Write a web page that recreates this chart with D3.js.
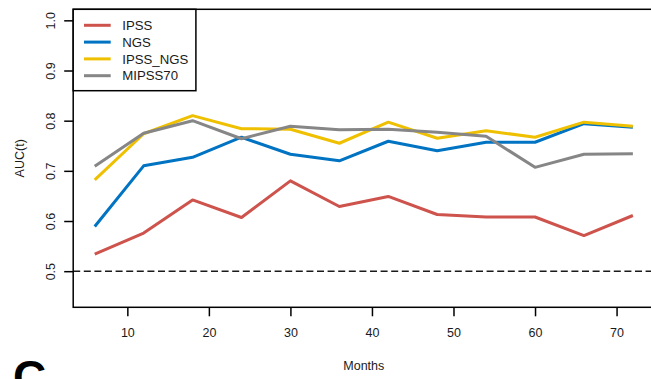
<!DOCTYPE html>
<html>
<head>
<meta charset="utf-8">
<script src="https://cdn.jsdelivr.net/npm/d3@7"></script>
<style>
  html, body { margin: 0; padding: 0; background: #fff; }
  svg { display: block; font-family: "Liberation Sans", Arial, Helvetica, sans-serif; }
</style>
</head>
<body>
<svg id="chart" width="651" height="379"></svg>
<script>
const months = [6, 12, 18, 24, 30, 36, 42, 48, 54, 60, 66, 72];
const seriesNames = ["IPSS", "NGS", "IPSS_NGS", "MIPSS70"];
const seriesColors = ["#CD534C", "#0073C2", "#EFC000", "#868686"];
const IPSS     = [0.534, 0.576, 0.642, 0.607, 0.680, 0.629, 0.649, 0.613, 0.608, 0.608, 0.571, 0.611];
const NGS      = [0.589, 0.710, 0.727, 0.767, 0.733, 0.720, 0.759, 0.740, 0.757, 0.757, 0.794, 0.787];
const IPSS_NGS = [0.682, 0.774, 0.810, 0.784, 0.783, 0.755, 0.797, 0.765, 0.780, 0.767, 0.797, 0.789];
const MIPSS70  = [0.709, 0.775, 0.800, 0.764, 0.789, 0.782, 0.783, 0.777, 0.769, 0.707, 0.733, 0.734];
const xTicks = [10, 20, 30, 40, 50, 60, 70];
const yTicks = [0.5, 0.6, 0.7, 0.8, 0.9, 1.0];
const refLine = 0.5;

const seriesValues = [IPSS, NGS, IPSS_NGS, MIPSS70];

const svg = d3.select("#chart");

const pL = 73.2, pR = 654.4, pT = 9.3, pB = 307.3;
const x = d3.scaleLinear().domain([3.36, 74.64]).range([pL, pR]);
const y = d3.scaleLinear().domain([0.428, 1.022]).range([pB, pT]);

// reference dashed line
svg.append("line")
  .attr("x1", pL).attr("x2", pR)
  .attr("y1", y(refLine)).attr("y2", y(refLine))
  .attr("stroke", "#1a1a1a").attr("stroke-width", 1.6)
  .attr("stroke-dasharray", "7,3.6");

// series lines
const line = d3.line().x((d, i) => x(months[i])).y(d => y(d));
seriesValues.forEach((vals, k) => {
  svg.append("path")
    .datum(vals)
    .attr("fill", "none")
    .attr("stroke", seriesColors[k])
    .attr("stroke-width", 3)
    .attr("stroke-linejoin", "round")
    .attr("d", line);
});

// plot box
svg.append("rect")
  .attr("x", pL).attr("y", pT)
  .attr("width", pR - pL).attr("height", pB - pT)
  .attr("fill", "none").attr("stroke", "#000").attr("stroke-width", 1.5);

// x axis
const xAxis = svg.append("g")
  .attr("transform", `translate(0,${pB})`)
  .call(d3.axisBottom(x).tickValues(xTicks).tickSize(9).tickPadding(12).tickFormat(d3.format("d")));
xAxis.select(".domain").remove();
xAxis.selectAll(".tick line").attr("stroke", "#000").attr("stroke-width", 1.5);
xAxis.selectAll(".tick text").attr("font-size", 12.5).attr("fill", "#1a1a1a")
  .attr("font-family", "'Liberation Sans', Arial, sans-serif");

// y axis
const yAxis = svg.append("g")
  .attr("transform", `translate(${pL},0)`)
  .call(d3.axisLeft(y).tickValues(yTicks).tickSize(9).tickFormat(d3.format(".1f")));
yAxis.select(".domain").remove();
yAxis.selectAll(".tick line").attr("stroke", "#000").attr("stroke-width", 1.5);
yAxis.selectAll(".tick text")
  .attr("font-size", 12.5).attr("fill", "#1a1a1a")
  .attr("font-family", "'Liberation Sans', Arial, sans-serif")
  .attr("text-anchor", "middle")
  .attr("transform", "rotate(-90)")
  .attr("x", 0).attr("y", -22.6).attr("dy", "0.35em");

// axis titles
svg.append("text")
  .attr("x", (pL + pR) / 2).attr("y", 366).attr("dy", "0.35em")
  .attr("text-anchor", "middle").attr("font-size", 12.5).attr("fill", "#1a1a1a")
  .text("Months");
svg.append("text")
  .attr("transform", `translate(20,${(pT + pB) / 2}) rotate(-90)`)
  .attr("dy", "0.35em")
  .attr("text-anchor", "middle").attr("font-size", 12.5).attr("fill", "#1a1a1a")
  .text("AUC(t)");

// legend
const lg = svg.append("g");
lg.append("rect")
  .attr("x", pL).attr("y", pT).attr("width", 122.7).attr("height", 81.4)
  .attr("fill", "#fff").attr("stroke", "#000").attr("stroke-width", 1.5);
seriesNames.forEach((name, i) => {
  const yy = 25.3 + i * 16.8;
  lg.append("line").attr("x1", 84).attr("x2", 110.7).attr("y1", yy).attr("y2", yy)
    .attr("stroke", seriesColors[i]).attr("stroke-width", 3);
  lg.append("text").attr("x", 122.3).attr("y", yy).attr("dy", "0.35em")
    .attr("font-size", 13.2).attr("fill", "#1a1a1a").text(name);
});

// panel label
svg.append("text")
  .attr("x", 13).attr("y", 393)
  .attr("font-size", 46).attr("font-weight", "bold").attr("fill", "#000")
  .text("C");
</script>
</body>
</html>
